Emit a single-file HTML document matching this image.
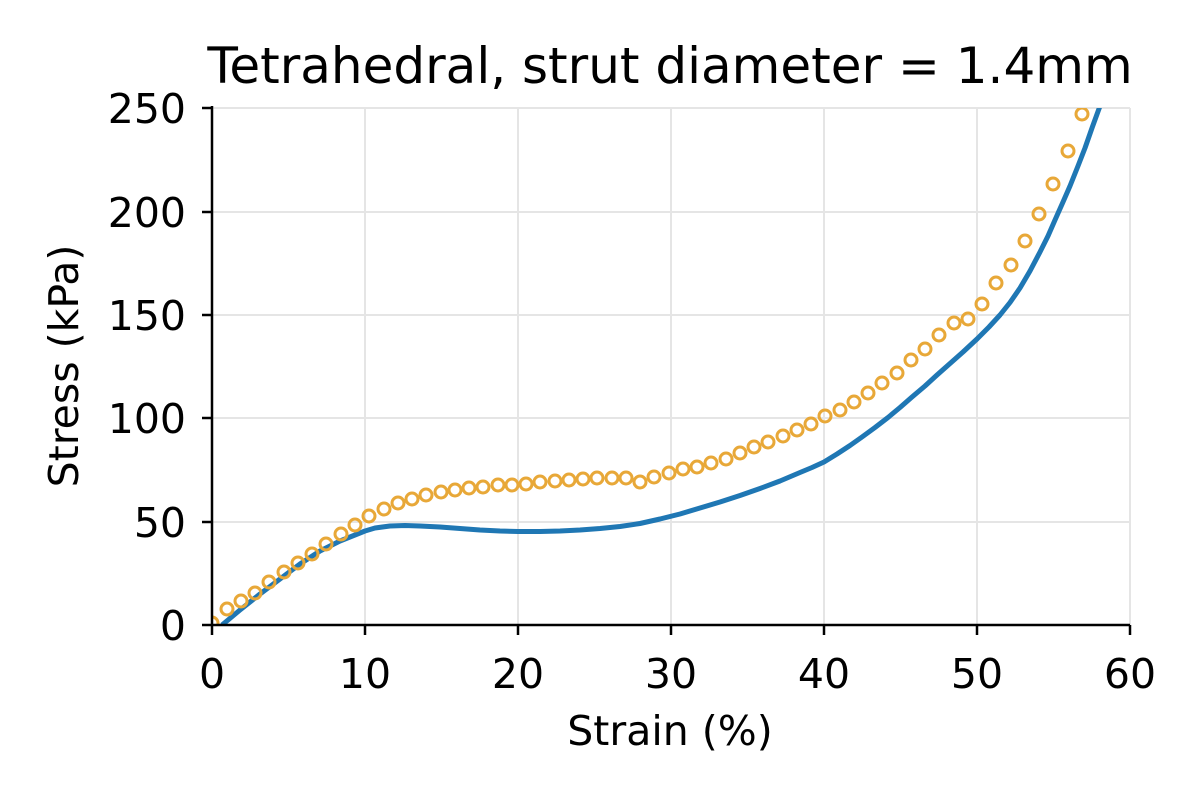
<!DOCTYPE html>
<html><head><meta charset="utf-8"><style>body{margin:0;background:#fff}svg{display:block}text{font-family:"DejaVu Sans","Liberation Sans",sans-serif;fill:#000}</style></head><body>
<svg width="1200" height="800" viewBox="0 0 1200 800" xmlns="http://www.w3.org/2000/svg">
<defs><clipPath id="c"><rect x="212" y="108" width="918" height="517"/></clipPath></defs>
<g stroke="#e5e5e5" stroke-width="2">
<line x1="365" y1="108" x2="365" y2="625"/><line x1="518" y1="108" x2="518" y2="625"/><line x1="671" y1="108" x2="671" y2="625"/><line x1="824" y1="108" x2="824" y2="625"/><line x1="977" y1="108" x2="977" y2="625"/><line x1="1130" y1="108" x2="1130" y2="625"/>
<line x1="212" y1="108" x2="1130" y2="108"/><line x1="212" y1="212" x2="1130" y2="212"/><line x1="212" y1="315" x2="1130" y2="315"/><line x1="212" y1="418" x2="1130" y2="418"/><line x1="212" y1="522" x2="1130" y2="522"/>
</g>
<g clip-path="url(#c)">
<polyline points="222,625 240,610 260,594 280,579 300,564 320,551 340,541 355,535 365,531 375,528 390,526 405,525.5 420,526 440,527 460,528.5 480,530 500,531 518,531.5 540,531.5 560,531 580,530 600,528.5 620,526.5 640,523.5 660,519 680,514 700,508 720,502 740,495.5 760,488.5 780,481 800,472.5 812,467.5 824,462 837,454 850,445.5 862,437 875,427.5 888,417.5 900,407.5 912,397 925,386 937,375 950,363.5 963,352 977,339 989,327 1000,315 1010,302.5 1020,288 1030,271 1040,252 1048,236 1055,220 1063,202 1070,186 1078,166 1085,148 1092,128 1100,106" fill="none" stroke="#1f77b4" stroke-width="5" stroke-linejoin="round"/>
<g fill="none" stroke="#e8a838" stroke-width="3">
<circle cx="212" cy="623" r="6"/>
<circle cx="227" cy="609" r="6"/><circle cx="241" cy="601" r="6"/><circle cx="255" cy="593" r="6"/><circle cx="269" cy="582" r="6"/><circle cx="284" cy="572" r="6"/><circle cx="298" cy="563" r="6"/><circle cx="312" cy="554" r="6"/><circle cx="326" cy="544" r="6"/><circle cx="341" cy="534" r="6"/><circle cx="355" cy="525" r="6"/><circle cx="369" cy="516" r="6"/><circle cx="384" cy="509" r="6"/><circle cx="398" cy="503" r="6"/><circle cx="412" cy="499" r="6"/><circle cx="426" cy="495" r="6"/><circle cx="441" cy="492" r="6"/><circle cx="455" cy="490" r="6"/><circle cx="469" cy="488" r="6"/><circle cx="483" cy="487" r="6"/><circle cx="498" cy="485" r="6"/><circle cx="512" cy="485" r="6"/><circle cx="526" cy="484" r="6"/><circle cx="540" cy="482" r="6"/><circle cx="555" cy="481" r="6"/><circle cx="569" cy="480" r="6"/><circle cx="583" cy="479" r="6"/><circle cx="597" cy="478" r="6"/><circle cx="612" cy="478" r="6"/><circle cx="626" cy="478" r="6"/><circle cx="640" cy="482" r="6"/><circle cx="654" cy="477" r="6"/><circle cx="669" cy="473" r="6"/><circle cx="683" cy="469" r="6"/><circle cx="697" cy="467" r="6"/><circle cx="711" cy="463" r="6"/><circle cx="726" cy="459" r="6"/><circle cx="740" cy="453" r="6"/><circle cx="754" cy="447" r="6"/><circle cx="768" cy="442" r="6"/><circle cx="783" cy="436" r="6"/><circle cx="797" cy="430" r="6"/><circle cx="811" cy="424" r="6"/><circle cx="825" cy="416" r="6"/><circle cx="840" cy="410" r="6"/><circle cx="854" cy="402" r="6"/><circle cx="868" cy="393" r="6"/><circle cx="882" cy="383" r="6"/><circle cx="897" cy="373" r="6"/><circle cx="911" cy="360" r="6"/><circle cx="925" cy="349" r="6"/><circle cx="939" cy="335" r="6"/><circle cx="954" cy="323" r="6"/><circle cx="968" cy="319" r="6"/><circle cx="982" cy="304" r="6"/><circle cx="996" cy="283" r="6"/><circle cx="1011" cy="265" r="6"/><circle cx="1025" cy="241" r="6"/><circle cx="1039" cy="214" r="6"/><circle cx="1053" cy="184" r="6"/><circle cx="1068" cy="151" r="6"/><circle cx="1082" cy="114" r="6"/>
</g></g>
<g stroke="#000" stroke-width="2.5">
<line x1="212" y1="106" x2="212" y2="626"/><line x1="211" y1="625" x2="1130" y2="625"/>
<line x1="212" y1="625" x2="212" y2="635"/><line x1="365" y1="625" x2="365" y2="635"/><line x1="518" y1="625" x2="518" y2="635"/><line x1="671" y1="625" x2="671" y2="635"/><line x1="824" y1="625" x2="824" y2="635"/><line x1="977" y1="625" x2="977" y2="635"/><line x1="1130" y1="625" x2="1130" y2="635"/>
<line x1="202" y1="108" x2="212" y2="108"/><line x1="202" y1="212" x2="212" y2="212"/><line x1="202" y1="315" x2="212" y2="315"/><line x1="202" y1="418" x2="212" y2="418"/><line x1="202" y1="522" x2="212" y2="522"/><line x1="202" y1="625" x2="212" y2="625"/>
</g>
<g font-size="41" text-anchor="middle">
<text x="212" y="688">0</text><text x="365" y="688">10</text><text x="518" y="688">20</text><text x="671" y="688">30</text><text x="824" y="688">40</text><text x="977" y="688">50</text><text x="1130" y="688">60</text>
</g>
<g font-size="41" text-anchor="end">
<text x="186" y="123">250</text><text x="186" y="227">200</text><text x="186" y="330">150</text><text x="186" y="433">100</text><text x="186" y="537">50</text><text x="186" y="640">0</text>
</g>
<text x="670" y="745" font-size="41" text-anchor="middle">Strain (%)</text>
<text transform="translate(78,366) rotate(-90)" font-size="41" text-anchor="middle">Stress (kPa)</text>
<text x="670" y="83" font-size="50" text-anchor="middle">Tetrahedral, strut diameter = 1.4mm</text>
</svg>
</body></html>
